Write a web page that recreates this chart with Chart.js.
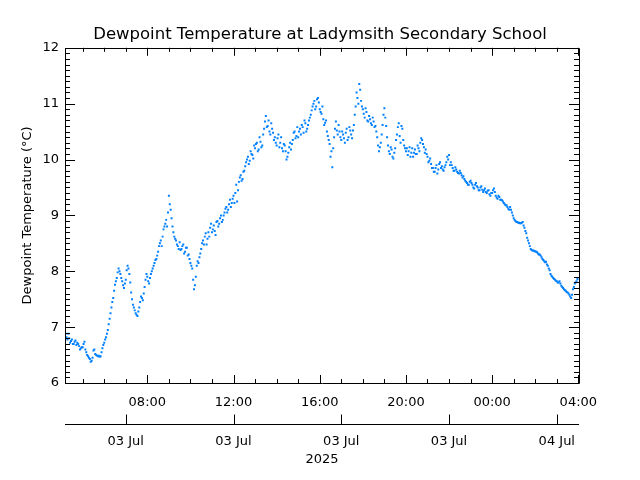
<!DOCTYPE html>
<html>
<head>
<meta charset="utf-8">
<script src="https://cdn.jsdelivr.net/npm/chart.js@4/dist/chart.umd.min.js"></script>
<style>
  html, body { margin: 0; padding: 0; background: #fff; }
  canvas { display: block; }
</style>
</head>
<body>
<canvas id="myChart" width="640" height="480"></canvas>
<script>
// readings every 5 minutes, first one at 04:10 on 03 Jul (hours since 00:00 03 Jul)
const startHour = 4 + 10 / 60;
const stepMinutes = 5;
const dewpoint = [
  6.95, 6.82, 6.88, 6.72, 6.78, 6.70, 6.76, 6.72, 6.66, 6.62,                     // 04
  6.64, 6.74, 6.55, 6.48, 6.43, 6.40, 6.58, 6.52, 6.49, 6.49, 6.48, 6.62,         // 05
  6.72, 6.82, 6.95, 7.15, 7.35, 7.52, 7.76, 7.88, 8.05, 7.95, 7.82, 7.70,         // 06
  7.85, 8.10, 7.95, 7.62, 7.40, 7.30, 7.22, 7.28, 7.45, 7.52, 7.60, 7.85,         // 07
  7.90, 7.78, 7.95, 8.05, 8.15, 8.22, 8.35, 8.50, 8.45, 8.75, 8.85, 8.80,         // 08
  9.35, 9.10, 8.80, 8.62, 8.55, 8.45, 8.52, 8.40, 8.48, 8.35, 8.42, 8.30,         // 09
  8.15, 8.05, 7.68, 7.90, 8.18, 8.25, 8.40, 8.55, 8.62, 8.48, 8.70, 8.78,         // 10
  8.70, 8.82, 8.65, 8.90, 8.85, 9.00, 8.92, 9.05, 9.15, 9.10, 9.28, 9.22,         // 11
  9.35, 9.40, 9.25, 9.60, 9.72, 9.65, 9.80, 9.95, 10.05, 9.98, 10.10, 10.02,      // 12
  10.20, 10.30, 10.18, 10.32, 10.25, 10.55, 10.78, 10.60, 10.50, 10.65, 10.48, 10.40, // 13
  10.25, 10.45, 10.30, 10.20, 10.28, 10.15, 10.05, 10.22, 10.18, 10.35, 10.50, 10.42, // 14
  10.40, 10.55, 10.62, 10.48, 10.65, 10.55, 10.70, 10.80, 10.95, 11.05, 10.95, 11.10, // 15
  10.90, 10.82, 10.72, 10.66, 10.50, 10.35, 10.05, 9.86, 10.40, 10.68, 10.45, 10.50,  // 16
  10.35, 10.45, 10.30, 10.55, 10.40, 10.52, 10.38, 10.62, 10.95, 11.10, 11.35, 11.05, // 17
  10.90, 10.75, 10.85, 10.68, 10.72, 10.62, 10.68, 10.60, 10.40, 10.15, 10.30, 10.62, // 18
  10.92, 10.60, 10.25, 10.10, 10.18, 10.02, 10.20, 10.45, 10.65, 10.30, 10.55, 10.25, // 19
  10.15, 10.08, 10.22, 10.12, 10.05, 10.18, 10.10, 10.20, 10.30, 10.35, 10.22, 10.18, // 20
  10.05, 9.98, 9.92, 9.85, 9.78, 9.90, 9.82, 9.95, 9.88, 9.80, 9.90, 10.05,       // 21
  10.08, 9.95, 9.85, 9.80, 9.82, 9.76, 9.80, 9.72, 9.70, 9.62, 9.58, 9.55,        // 22
  9.62, 9.55, 9.48, 9.58, 9.50, 9.45, 9.52, 9.42, 9.48, 9.40, 9.45, 9.35,         // 23
  9.40, 9.48, 9.35, 9.30, 9.33, 9.28, 9.25, 9.20, 9.18, 9.12, 9.15, 9.05,         // 00
  8.95, 8.90, 8.88, 8.87, 8.86, 8.88, 8.78, 8.68, 8.55, 8.45, 8.38, 8.37,         // 01
  8.36, 8.34, 8.30, 8.28, 8.22, 8.18, 8.17, 8.10, 8.02, 7.92, 7.88, 7.85,         // 02
  7.82, 7.80, 7.78, 7.72, 7.68, 7.65, 7.62, 7.58, 7.52, 7.68, 7.78, 7.82          // 03
];
// the readings taken 2.5 minutes after each of the ones above
const dewpointHalf = [
  6.88, 6.78, 6.80, 6.75, 6.70, 6.74, 6.68, 6.70, 6.60, 6.64,                     // 04
  6.70, 6.60, 6.50, 6.45, 6.38, 6.45, 6.60, 6.50, 6.48, 6.47, 6.55, 6.68,         // 05
  6.78, 6.88, 7.05, 7.25, 7.45, 7.65, 7.82, 7.98, 8.00, 7.88, 7.75, 7.78,         // 06
  8.02, 8.05, 7.80, 7.50, 7.35, 7.25, 7.20, 7.35, 7.55, 7.48, 7.72, 7.95,         // 07
  7.82, 7.88, 8.00, 8.10, 8.20, 8.28, 8.45, 8.55, 8.62, 8.80, 8.92, 9.05,         // 08
  9.20, 8.95, 8.70, 8.58, 8.48, 8.40, 8.38, 8.45, 8.32, 8.42, 8.28, 8.22,         // 09
  8.10, 7.85, 7.75, 8.10, 8.15, 8.32, 8.50, 8.48, 8.68, 8.58, 8.62, 8.85,         // 10
  8.75, 8.72, 8.88, 8.80, 8.95, 8.88, 9.00, 9.12, 9.05, 9.20, 9.15, 9.30,         // 11
  9.22, 9.55, 9.45, 9.68, 9.62, 9.78, 9.88, 10.00, 9.92, 10.15, 10.08, 10.25,     // 12
  10.28, 10.15, 10.40, 10.22, 10.45, 10.68, 10.58, 10.70, 10.45, 10.55, 10.35, 10.30, // 13
  10.38, 10.22, 10.40, 10.15, 10.25, 10.00, 10.12, 10.30, 10.28, 10.48, 10.38, 10.58, // 14
  10.50, 10.45, 10.58, 10.70, 10.50, 10.62, 10.75, 10.88, 11.00, 10.90, 11.08, 11.02, // 15
  10.85, 10.95, 10.62, 10.70, 10.42, 10.28, 10.15, 10.20, 10.55, 10.52, 10.62, 10.40, // 16
  10.50, 10.38, 10.48, 10.35, 10.58, 10.45, 10.52, 10.80, 11.20, 11.00, 11.25, 10.95, // 17
  10.82, 10.92, 10.70, 10.78, 10.65, 10.75, 10.58, 10.50, 10.25, 10.22, 10.45, 10.80, // 18
  10.75, 10.40, 10.15, 10.22, 10.05, 10.12, 10.35, 10.58, 10.42, 10.60, 10.35, 10.20, // 19
  10.20, 10.15, 10.05, 10.20, 10.12, 10.10, 10.25, 10.15, 10.38, 10.28, 10.12, 10.10, // 20
  9.95, 10.02, 9.85, 9.78, 9.85, 9.75, 9.92, 9.85, 9.82, 9.86, 9.95, 10.00,       // 21
  9.90, 9.90, 9.80, 9.86, 9.78, 9.75, 9.76, 9.68, 9.65, 9.60, 9.55, 9.60,         // 22
  9.58, 9.50, 9.55, 9.52, 9.45, 9.50, 9.46, 9.45, 9.42, 9.44, 9.38, 9.40,         // 23
  9.45, 9.42, 9.32, 9.35, 9.28, 9.27, 9.22, 9.18, 9.15, 9.10, 9.10, 9.00,         // 00
  8.92, 8.88, 8.87, 8.86, 8.87, 8.82, 8.72, 8.60, 8.50, 8.40, 8.37, 8.36,         // 01
  8.35, 8.32, 8.30, 8.25, 8.20, 8.16, 8.12, 8.05, 7.95, 7.90, 7.86, 7.83,         // 02
  7.80, 7.82, 7.74, 7.70, 7.66, 7.63, 7.60, 7.55, 7.58, 7.72, 7.80, 7.86          // 03
];

const timeTicks = [8, 12, 16, 20, 24, 28];
const timeLabels = ['08:00', '12:00', '16:00', '20:00', '00:00', '04:00'];
const dateTicks = [7, 12, 17, 22, 27];
const dateLabels = ['03 Jul', '03 Jul', '03 Jul', '03 Jul', '04 Jul'];
const yTicks = [6, 7, 8, 9, 10, 11, 12];

const xMin = 4.18;
const xMax = 28.03;
const fontFamily = '"DejaVu Sans", sans-serif';

const points = [];
dewpoint.forEach((v, i) => points.push({ x: startHour + i * stepMinutes / 60, y: v }));
dewpointHalf.forEach((v, i) => points.push({ x: startHour + (i * stepMinutes + 2.5) / 60, y: v }));

// IDL-style box: inward major/minor ticks on all four sides plus the date axis line
const boxAxes = {
  id: 'boxAxes',
  afterDraw(chart) {
    const { ctx, chartArea: { left, right, top, bottom }, scales: { x, y, date } } = chart;
    const px = v => Math.round(v) + 0.5;
    ctx.save();
    ctx.strokeStyle = '#000';
    ctx.lineWidth = 1;
    ctx.beginPath();
    ctx.rect(px(left), px(top), Math.round(right - left), Math.round(bottom - top));
    for (let i = 60; i <= 120; i++) {
      const yy = px(y.getPixelForValue(i / 10));
      const len = i % 10 === 0 ? 10 : 5;
      ctx.moveTo(left, yy); ctx.lineTo(left + len, yy);
      ctx.moveTo(right, yy); ctx.lineTo(right - len, yy);
    }
    for (let h = Math.ceil(xMin); h <= Math.floor(xMax); h++) {
      const xx = px(x.getPixelForValue(h));
      const len = h % 4 === 0 ? 8 : 4;
      ctx.moveTo(xx, bottom); ctx.lineTo(xx, bottom - len);
      ctx.moveTo(xx, top); ctx.lineTo(xx, top + len);
    }
    const dy = px(date.top);
    ctx.moveTo(left, dy); ctx.lineTo(right, dy);
    dateTicks.forEach(t => {
      const xx = px(date.getPixelForValue(t));
      ctx.moveTo(xx, dy); ctx.lineTo(xx, dy - 10);
    });
    ctx.stroke();
    ctx.restore();
  }
};

const noGrid = { display: false, drawTicks: false };

const ctx = document.getElementById('myChart').getContext('2d');
new Chart(ctx, {
  type: 'scatter',
  data: {
    datasets: [{
      label: 'Dewpoint',
      data: points,
      pointStyle: 'rect',
      pointRadius: 1.4,
      borderWidth: 0,
      backgroundColor: '#0080ff'
    }]
  },
  options: {
    responsive: false,
    animation: false,
    layout: { padding: 0 },
    plugins: {
      legend: { display: false },
      tooltip: { enabled: false },
      title: {
        display: true,
        text: 'Dewpoint Temperature at Ladymsith Secondary School',
        color: '#000',
        font: { family: fontFamily, size: 16.5, weight: 'normal' },
        padding: { top: 25, bottom: 3 }
      }
    },
    scales: {
      x: {
        type: 'linear',
        position: 'bottom',
        weight: 0,
        min: xMin,
        max: xMax,
        grid: noGrid,
        border: { display: false },
        afterBuildTicks: s => { s.ticks = timeTicks.map(v => ({ value: v })); },
        afterFit: s => { s.height = 41; },
        ticks: {
          autoSkip: false,
          maxRotation: 0,
          padding: 12,
          color: '#000',
          font: { family: fontFamily, size: 13 },
          callback: v => timeLabels[timeTicks.indexOf(v)]
        }
      },
      date: {
        type: 'linear',
        axis: 'x',
        position: 'bottom',
        weight: 1,
        min: xMin,
        max: xMax,
        grid: noGrid,
        border: { display: false },
        afterBuildTicks: s => { s.ticks = dateTicks.map(v => ({ value: v })); },
        afterFit: s => { s.height = 56; },
        ticks: {
          autoSkip: false,
          maxRotation: 0,
          padding: 10,
          color: '#000',
          font: { family: fontFamily, size: 13 },
          callback: v => dateLabels[dateTicks.indexOf(v)]
        },
        title: {
          display: true,
          text: '2025',
          color: '#000',
          font: { family: fontFamily, size: 13 },
          padding: { top: 0, bottom: 13 }
        }
      },
      y: {
        min: 6,
        max: 12,
        grid: noGrid,
        border: { display: false },
        afterBuildTicks: s => { s.ticks = yTicks.map(v => ({ value: v })); },
        afterFit: s => { s.width = 65; },
        ticks: {
          padding: 6,
          color: '#000',
          font: { family: fontFamily, size: 13 }
        },
        title: {
          display: true,
          text: 'Dewpoint Temperature (°C)',
          color: '#000',
          font: { family: fontFamily, size: 13 },
          padding: { top: 20, bottom: 0 }
        }
      },
      yRight: {
        axis: 'y',
        position: 'right',
        min: 6,
        max: 12,
        grid: noGrid,
        border: { display: false },
        ticks: { display: false },
        afterFit: s => { s.width = 61; }
      }
    }
  },
  plugins: [boxAxes]
});
</script>
</body>
</html>
